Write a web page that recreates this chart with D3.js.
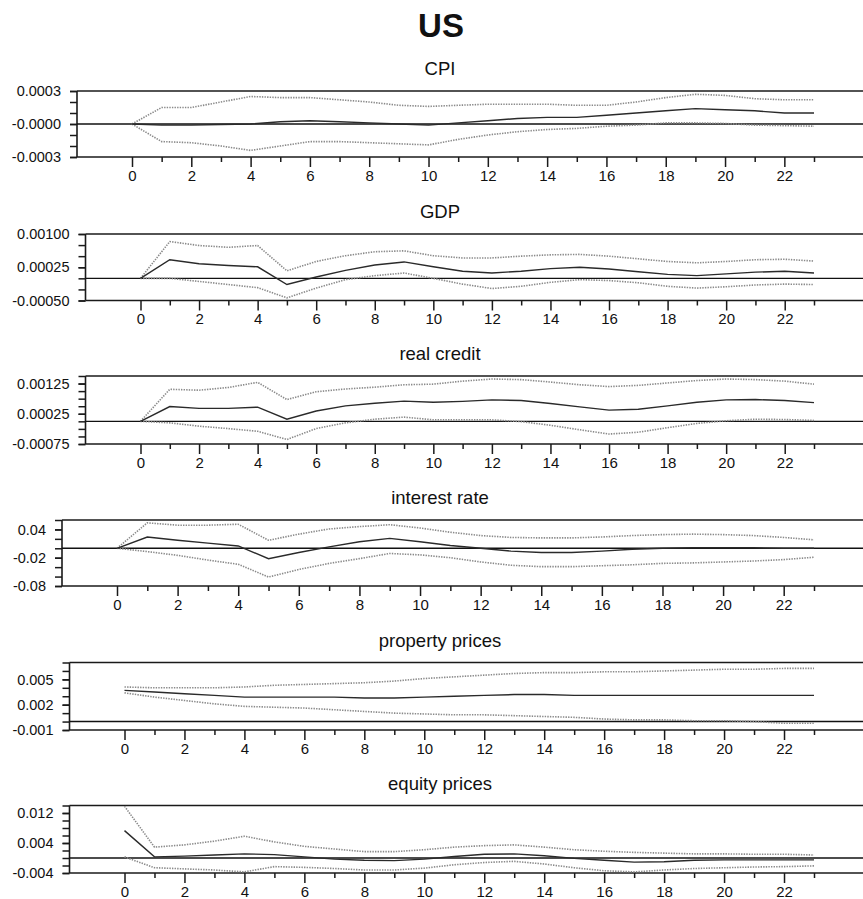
<!DOCTYPE html>
<html>
<head>
<meta charset="utf-8">
<script src="https://cdn.jsdelivr.net/npm/d3@7"></script>
<style>
  html, body { margin: 0; padding: 0; background: #fff; }
  svg { display: block; }
  text { font-family: "Liberation Sans", Arial, sans-serif; fill: #111; }
</style>
</head>
<body>
<svg id="chart" width="863" height="899"></svg>
<script>
// ---------- DATA ----------
const horizons = d3.range(0, 24); // 0..23
const xTickLabels = ["0","2","4","6","8","10","12","14","16","18","20","22"];

const panelTitles = ["CPI", "GDP", "real credit", "interest rate", "property prices", "equity prices"];

// CPI
const cpiMid = [0, -0.00001, -0.00001, -0.000005, 0, 0.00002, 0.00003, 0.00002, 0.00001, 0, -0.00001, 0.00001, 0.00003, 0.00005, 0.00006, 0.00006, 0.00008, 0.0001, 0.00012, 0.00014, 0.00013, 0.00012, 0.0001, 0.0001];
const cpiUp  = [0, 0.00015, 0.00015, 0.0002, 0.00025, 0.00024, 0.00024, 0.00022, 0.0002, 0.00017, 0.00016, 0.00017, 0.00018, 0.00018, 0.00018, 0.00017, 0.00017, 0.0002, 0.00024, 0.00027, 0.00026, 0.00023, 0.00022, 0.00022];
const cpiLo  = [0, -0.00016, -0.00017, -0.0002, -0.00024, -0.0002, -0.00016, -0.00016, -0.00017, -0.00018, -0.00019, -0.00014, -0.0001, -0.00007, -0.00005, -0.00004, -0.00002, -0.00001, 0.00001, 0.00001, 0.000005, -0.00001, -0.000015, -0.00002];

// GDP
const gdpMid = [0, 0.00042, 0.00033, 0.00029, 0.00026, -0.00014, 0.00003, 0.00018, 0.0003, 0.00037, 0.00026, 0.00016, 0.00012, 0.00016, 0.00022, 0.00025, 0.00021, 0.00015, 0.00009, 0.00006, 0.0001, 0.00014, 0.00016, 0.00012];
const gdpUp  = [0, 0.00083, 0.00074, 0.0007, 0.00074, 0.00017, 0.00038, 0.00051, 0.0006, 0.00062, 0.00051, 0.00046, 0.00046, 0.0005, 0.00053, 0.00054, 0.0005, 0.00044, 0.00038, 0.00035, 0.00038, 0.00042, 0.00043, 0.00039];
const gdpLo  = [0, 0, -0.00007, -0.00014, -0.00021, -0.00044, -0.00022, -0.00003, 0.00006, 0.00012, 0, -0.00013, -0.00023, -0.00018, -0.00009, -0.00003, -0.00005, -0.0001, -0.00018, -0.00022, -0.00019, -0.00015, -0.00013, -0.00014];

// real credit
const rcMid = [0, 0.00049, 0.00043, 0.00043, 0.00047, 0.00007, 0.00034, 0.00051, 0.0006, 0.00067, 0.00063, 0.00066, 0.00071, 0.00069, 0.00059, 0.00048, 0.00037, 0.0004, 0.00051, 0.00063, 0.00071, 0.00072, 0.00069, 0.00062];
const rcUp  = [0, 0.00106, 0.00103, 0.00112, 0.00129, 0.00072, 0.00098, 0.00107, 0.00113, 0.00121, 0.00123, 0.00133, 0.0014, 0.00138, 0.0013, 0.00121, 0.00115, 0.00119, 0.00127, 0.00135, 0.0014, 0.00138, 0.00133, 0.00123];
const rcLo  = [0, -0.00005, -0.00016, -0.00024, -0.00033, -0.0006, -0.00024, -0.00005, 0.00007, 0.00014, 0.00005, 0.00005, 0.00005, -0.00001, -0.00013, -0.00028, -0.00042, -0.00036, -0.00021, -0.00007, 0.00002, 0.00007, 0.00006, 0.00003];

// interest rate
const irMid = [0, 0.024, 0.017, 0.011, 0.005, -0.022, -0.009, 0.003, 0.014, 0.021, 0.014, 0.006, 0, -0.006, -0.009, -0.009, -0.006, -0.002, 0, 0.001, 0.001, 0.001, 0, 0];
const irUp  = [0, 0.054, 0.049, 0.049, 0.051, 0.017, 0.03, 0.041, 0.046, 0.05, 0.043, 0.034, 0.027, 0.023, 0.022, 0.022, 0.024, 0.027, 0.029, 0.03, 0.029, 0.027, 0.023, 0.018];
const irLo  = [0, -0.007, -0.015, -0.025, -0.034, -0.061, -0.045, -0.032, -0.022, -0.011, -0.014, -0.02, -0.029, -0.036, -0.039, -0.039, -0.037, -0.035, -0.032, -0.031, -0.029, -0.027, -0.024, -0.019];

// property prices
const ppMid = [0.0037, 0.0035, 0.0033, 0.0031, 0.0029, 0.0029, 0.0029, 0.0029, 0.0028, 0.0028, 0.0029, 0.003, 0.0031, 0.0032, 0.0032, 0.0031, 0.0031, 0.0031, 0.0031, 0.0031, 0.0031, 0.0031, 0.0031, 0.0031];
const ppUp  = [0.0041, 0.004, 0.004, 0.004, 0.0041, 0.0043, 0.0044, 0.0045, 0.0046, 0.0048, 0.0051, 0.0053, 0.0055, 0.0057, 0.0058, 0.0058, 0.0059, 0.0059, 0.006, 0.0061, 0.0062, 0.0062, 0.0063, 0.0063];
const ppLo  = [0.0034, 0.0029, 0.0025, 0.0021, 0.0018, 0.0017, 0.0016, 0.0014, 0.0012, 0.001, 0.0009, 0.0008, 0.0008, 0.0007, 0.0006, 0.0005, 0.0003, 0.0002, 0.0002, 0.0001, 0.0001, 0, -0.0002, -0.0002];

// equity prices
const eqMid = [0.0073, 0.0003, 0.0005, 0.0008, 0.0011, 0.0009, 0.0003, -0.0003, -0.0006, -0.0007, -0.0003, 0.0004, 0.001, 0.0011, 0.0006, -0.0001, -0.0006, -0.0011, -0.001, -0.0006, -0.0005, -0.0005, -0.0005, -0.0005];
const eqUp  = [0.0138, 0.0029, 0.0035, 0.0045, 0.0058, 0.0043, 0.0031, 0.0024, 0.0017, 0.0017, 0.0022, 0.0029, 0.0033, 0.0035, 0.0029, 0.0022, 0.0018, 0.0015, 0.0013, 0.0011, 0.0011, 0.001, 0.001, 0.0008];
const eqLo  = [0.0003, -0.0026, -0.0029, -0.0032, -0.0037, -0.0023, -0.0025, -0.0028, -0.0032, -0.0032, -0.0027, -0.0018, -0.0012, -0.0009, -0.0016, -0.0026, -0.0034, -0.0037, -0.0032, -0.0028, -0.0026, -0.0024, -0.0023, -0.0021];

// y-axis ticks (labelled) and their label text
const cpiTicks = [0.0003, 0, -0.0003],        cpiTickLabels = ["0.0003", "-0.0000", "-0.0003"];
const gdpTicks = [0.001, 0.00025, -0.0005],   gdpTickLabels = ["0.00100", "0.00025", "-0.00050"];
const rcTicks  = [0.00125, 0.00025, -0.00075], rcTickLabels = ["0.00125", "0.00025", "-0.00075"];
const irTicks  = [0.04, -0.02, -0.08],         irTickLabels = ["0.04", "-0.02", "-0.08"];
const ppTicks  = [0.005, 0.002, -0.001],       ppTickLabels = ["0.005", "0.002", "-0.001"];
const eqTicks  = [0.012, 0.004, -0.004],       eqTickLabels = ["0.012", "0.004", "-0.004"];

// y domains and minor tick steps
const cpiDomain = [-0.0003, 0.0003],  cpiMinor = 0.0001;
const gdpDomain = [-0.0005, 0.001],   gdpMinor = 0.00025;
const rcDomain  = [-0.00075, 0.0015], rcMinor  = 0.00025;
const irDomain  = [-0.08, 0.06],      irMinor  = 0.02;
const ppDomain  = [-0.001, 0.007],    ppMinor  = 0.001;
const eqDomain  = [-0.004, 0.014],    eqMinor  = 0.002;

// ---------- LAYOUT ----------
const panels = [
  { mid: cpiMid, up: cpiUp, lo: cpiLo, ticks: cpiTicks, labels: cpiTickLabels, domain: cpiDomain, minor: cpiMinor, top: 91,  bottom: 157, axisX: 77 },
  { mid: gdpMid, up: gdpUp, lo: gdpLo, ticks: gdpTicks, labels: gdpTickLabels, domain: gdpDomain, minor: gdpMinor, top: 234, bottom: 300.5, axisX: 85.5 },
  { mid: rcMid,  up: rcUp,  lo: rcLo,  ticks: rcTicks,  labels: rcTickLabels,  domain: rcDomain,  minor: rcMinor,  top: 376, bottom: 444, axisX: 85.5 },
  { mid: irMid,  up: irUp,  lo: irLo,  ticks: irTicks,  labels: irTickLabels,  domain: irDomain,  minor: irMinor,  top: 520, bottom: 586, axisX: 62 },
  { mid: ppMid,  up: ppUp,  lo: ppLo,  ticks: ppTicks,  labels: ppTickLabels,  domain: ppDomain,  minor: ppMinor,  top: 662.5, bottom: 730, axisX: 69.5 },
  { mid: eqMid,  up: eqUp,  lo: eqLo,  ticks: eqTicks,  labels: eqTickLabels,  domain: eqDomain,  minor: eqMinor,  top: 805.5, bottom: 873, axisX: 69.5 }
];

const W = 863;
const svg = d3.select("#chart");

svg.append("text")
  .attr("x", 441).attr("y", 37)
  .attr("text-anchor", "middle")
  .style("font-size", "33px").style("font-weight", "bold")
  .text("US");

panels.forEach((p, i) => {
  const g = svg.append("g");
  const x = d3.scaleLinear().domain([0, 23]).range([p.axisX + 55, 814]);
  const y = d3.scaleLinear().domain(p.domain).range([p.bottom, p.top]);

  // title
  g.append("text")
    .attr("x", 440).attr("y", p.top - 16)
    .attr("text-anchor", "middle")
    .style("font-size", "18.5px")
    .text(panelTitles[i]);

  // frame: top, bottom, left
  const frameColor = "#1a1a1a";
  g.append("line").attr("x1", p.axisX).attr("x2", W).attr("y1", p.top).attr("y2", p.top)
    .attr("stroke", frameColor).attr("stroke-width", 1.6);
  g.append("line").attr("x1", p.axisX).attr("x2", W).attr("y1", p.bottom).attr("y2", p.bottom)
    .attr("stroke", frameColor).attr("stroke-width", 1.6);
  g.append("line").attr("x1", p.axisX).attr("x2", p.axisX).attr("y1", p.top).attr("y2", p.bottom)
    .attr("stroke", frameColor).attr("stroke-width", 1.6);

  // zero line
  g.append("line").attr("x1", p.axisX).attr("x2", W).attr("y1", y(0)).attr("y2", y(0))
    .attr("stroke", "#111").attr("stroke-width", 1.4);

  // left axis: minor + major ticks (drawn outward)
  const minorTicks = d3.range(p.domain[0], p.domain[1] + p.minor / 2, p.minor);
  const yAxisMinor = d3.axisLeft(y).tickValues(minorTicks).tickSize(7).tickFormat("");
  const ga = g.append("g").attr("transform", `translate(${p.axisX},0)`).call(yAxisMinor);
  ga.select(".domain").remove();
  ga.selectAll(".tick line").attr("stroke", frameColor).attr("stroke-width", 1.5);

  const yAxisMajor = d3.axisLeft(y).tickValues(p.ticks).tickSize(7).tickPadding(9)
    .tickFormat((d, k) => p.labels[k]);
  const gm = g.append("g").attr("transform", `translate(${p.axisX},0)`).call(yAxisMajor);
  gm.select(".domain").remove();
  gm.selectAll(".tick line").attr("stroke", frameColor).attr("stroke-width", 1.5);
  gm.selectAll(".tick text").style("font-size", "14.5px")
    .style("font-family", '"Liberation Sans", Arial, sans-serif').attr("fill", "#111");

  // bottom axis: odd minor ticks and even labelled ticks
  const gxMinor = g.append("g").attr("transform", `translate(0,${p.bottom})`)
    .call(d3.axisBottom(x).tickValues(horizons.filter(d => d % 2 === 1)).tickSize(5).tickFormat(""));
  gxMinor.select(".domain").remove();
  gxMinor.selectAll(".tick line").attr("stroke", frameColor).attr("stroke-width", 1.5);

  const evenVals = horizons.filter(d => d % 2 === 0);
  const gx = g.append("g").attr("transform", `translate(0,${p.bottom})`)
    .call(d3.axisBottom(x).tickValues(evenVals).tickSize(10).tickPadding(3)
      .tickFormat((d, k) => xTickLabels[k]));
  gx.select(".domain").remove();
  gx.selectAll(".tick line").attr("stroke", frameColor).attr("stroke-width", 1.5);
  gx.selectAll(".tick text").style("font-size", "15px")
    .style("font-family", '"Liberation Sans", Arial, sans-serif').attr("fill", "#111");

  // series
  const line = d3.line().x((d, k) => x(horizons[k])).y(d => y(d));
  g.append("path").datum(p.up).attr("d", line)
    .attr("fill", "none").attr("stroke", "#8a8a8a").attr("stroke-width", 1.6)
    .attr("stroke-dasharray", "1.4,1.2");
  g.append("path").datum(p.lo).attr("d", line)
    .attr("fill", "none").attr("stroke", "#8a8a8a").attr("stroke-width", 1.6)
    .attr("stroke-dasharray", "1.4,1.2");
  g.append("path").datum(p.mid).attr("d", line)
    .attr("fill", "none").attr("stroke", "#2a2a2a").attr("stroke-width", 1.4);
});
</script>
</body>
</html>
